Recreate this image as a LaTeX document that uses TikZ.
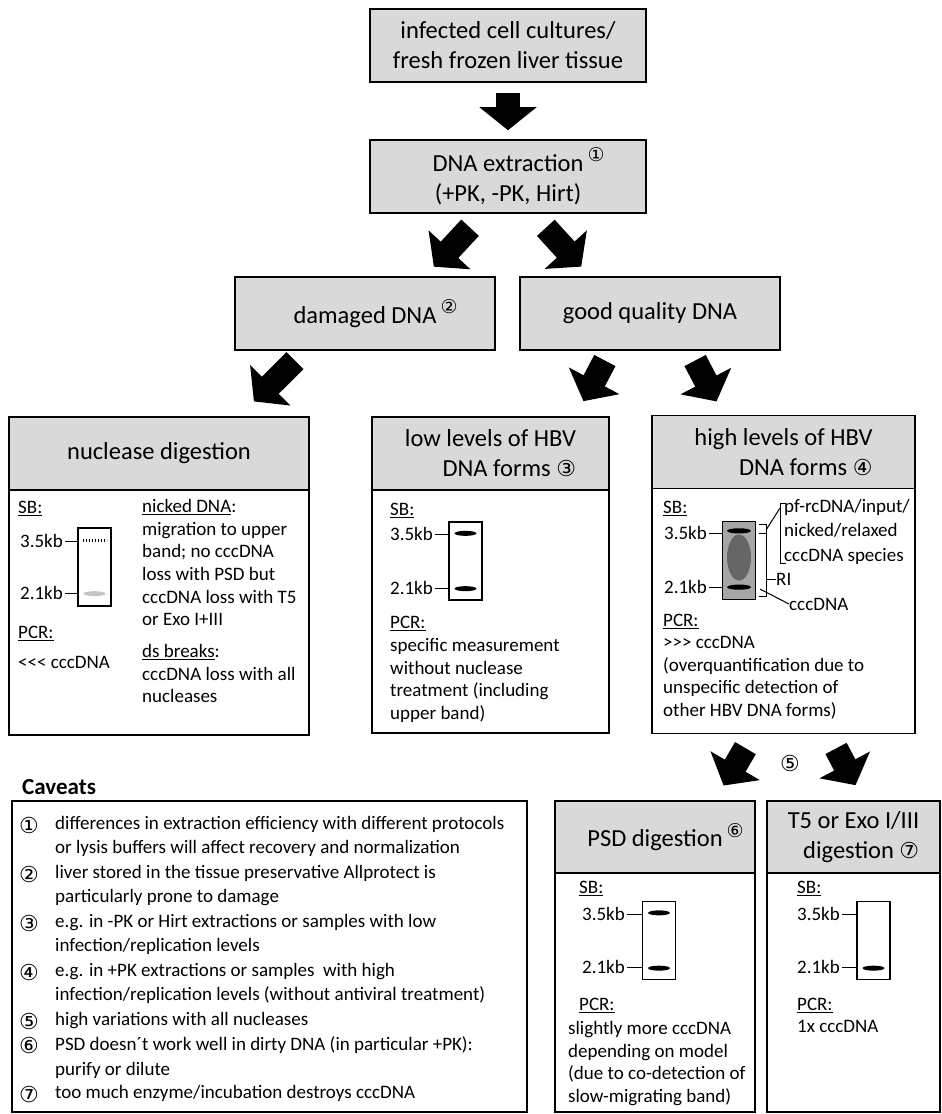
\documentclass[tikz,border=0pt]{standalone}
\usepackage{fontspec}
\setmainfont{Carlito}
\newfontfamily\circfont{DejaVu Sans}
\usetikzlibrary{arrows.meta,calc}

\definecolor{headgray}{HTML}{D9D9D9}
\definecolor{gelgray}{HTML}{A6A6A6}
\definecolor{smear}{HTML}{666666}
\definecolor{faint}{HTML}{C4C4C4}

\tikzstyle{head}=[draw,line width=1.6pt,fill=headgray,minimum height=73pt,align=center,inner sep=0pt,font=\fontsize{24.5}{30}\selectfont]
\tikzstyle{body}=[draw,line width=1.6pt,inner sep=0pt]
\tikzstyle{txt}=[anchor=north west,inner sep=0pt,align=left,font=\fontsize{19}{22.7}\selectfont]
\tikzstyle{lbl}=[anchor=east,inner sep=0pt,font=\fontsize{19}{22}\selectfont]
\tikzstyle{gel}=[draw,line width=1.3pt,minimum width=33pt,minimum height=78pt,inner sep=0pt]
\tikzstyle{tick}=[line width=1pt,shorten <=2pt]
\tikzstyle{bigarrow}=[line width=24pt,-{Triangle[width=56pt,length=23pt]}]
\tikzstyle{circ}=[inner sep=0pt,font=\circfont\fontsize{22}{22}\selectfont]
\newcommand{\circsup}[1]{\rlap{\,\raisebox{0.4em}{\circfont\fontsize{19}{19}\selectfont #1}}}
\newcommand{\circin}[1]{{\circfont\fontsize{22}{22}\selectfont #1}}

\begin{document}
\begin{tikzpicture}[x=1pt,y=-1pt]
\useasboundingbox (0,0) rectangle (942,1114);
% top of the flow
\node[head,minimum width=276pt] (top) at (508,45.5) {infected cell cultures/\\fresh frozen liver tissue};
\node[head,minimum width=276pt] (ext) at (508,176.5) {DNA extraction\circsup{①}\\(+PK, -PK, Hirt)};
\node[head,minimum width=260pt] (dmg) at (365,313.5) {damaged DNA\circsup{②}};
\node[head,minimum width=260pt] (good) at (650,313.5) {good quality DNA};
\draw[bigarrow,shorten <=10pt,shorten >=9pt] (top) -- (ext);
\draw[bigarrow,shorten <=19pt,shorten >=13pt] ($(ext.south)+(-25,0)$) -- ($(dmg.north)+(60,0)$);
\draw[bigarrow,shorten <=19pt,shorten >=13pt] ($(ext.south)+(25,0)$) -- ($(good.north)+(-60,0)$);

% nuclease digestion
\node[body,minimum width=300pt,minimum height=245pt] (nuc) at (159,612.5) {};
\node[head,minimum width=300pt] (nuc_h) at (159,453.5) {nuclease digestion};
\node[txt] (sb_nuc) at (18,501) {\underline{SB:}};
\node[gel] (gel_nuc) at (94.5,567) {};
\node[lbl] (l35_nuc) at (63,541) {3.5kb};
\node[lbl] (l21_nuc) at (63,593) {2.1kb};
\draw[tick] (l35_nuc.east) -- (l35_nuc.east -| gel_nuc.west);
\draw[tick] (l21_nuc.east) -- (l21_nuc.east -| gel_nuc.west);
\draw[line width=2.4pt,dash pattern=on 1.6pt off 1.4pt] ($(gel_nuc.north)+(-12,13)$) -- ($(gel_nuc.north)+(12,13)$);
\fill[faint] ($(gel_nuc.south)+(0,-13)$) ellipse [x radius=11,y radius=2.5];
\node[txt] (pcr_nuc) at (18,626) {\underline{PCR:}};
\node[txt] (res_nuc) at (18,656) {<\kern0pt<\kern0pt< cccDNA};
\node[txt] (nick_nuc) at (142,499) {\underline{nicked DNA}:\\migration to upper\\band; no cccDNA\\loss with PSD but\\cccDNA loss with T5\\or Exo I+III};
\node[txt] (ds_nuc) at (142,644) {\underline{ds breaks}:\\cccDNA loss with all\\nucleases};
\draw[bigarrow,shorten <=14pt,shorten >=21pt] ($(dmg.south)+(-60,0)$) -- ($(nuc_h.north)+(80,0)$);

% low levels
\node[body,minimum width=237pt,minimum height=243pt] (low) at (490.5,611.5) {};
\node[head,minimum width=237pt,align=right] (low_h) at (490.5,453.5) {low levels of HBV\\DNA forms \circin{③}};
\node[txt] (sb_low) at (390,503) {\underline{SB:}};
\node[gel] (gel_low) at (465.5,561) {};
\node[lbl] (l35_low) at (433,534) {3.5kb};
\node[lbl] (l21_low) at (433,588) {2.1kb};
\draw[tick] (l35_low.east) -- (l35_low.east -| gel_low.west);
\draw[tick] (l21_low.east) -- (l21_low.east -| gel_low.west);
\fill ($(gel_low.north)+(0,12)$) ellipse [x radius=11,y radius=2.5];
\fill ($(gel_low.south)+(0,-12)$) ellipse [x radius=11,y radius=2.5];
\node[txt] (pcr_low) at (390,616) {\underline{PCR:}};
\node[txt] (res_low) at (390,638) {specific measurement\\without nuclease\\treatment (including\\upper band)};
\draw[bigarrow,shorten <=11pt,shorten >=17pt] ($(good.south)+(-40,0)$) -- ($(low_h.north)+(85,0)$);

% high levels
\node[body,minimum width=263pt,minimum height=245pt] (high) at (783.5,611) {};
\node[head,minimum width=263pt,align=right] (high_h) at (783.5,452) {high levels of HBV\\DNA forms \circin{④}};
\node[txt] (sb_high) at (663,501) {\underline{SB:}};
\node[gel,fill=gelgray] (gel_high) at (739,560.5) {};
\fill[smear] ($(gel_high.center)+(0,-3)$) ellipse [x radius=12,y radius=23];
\fill ($(gel_high.north)+(0,10)$) ellipse [x radius=12,y radius=2.6];
\fill ($(gel_high.south)+(0,-13)$) ellipse [x radius=12,y radius=2.6];
\node[lbl] (l35_high) at (707,533) {3.5kb};
\node[lbl] (l21_high) at (707,587) {2.1kb};
\draw[tick] (l35_high.east) -- (l35_high.east -| gel_high.west);
\draw[tick] (l21_high.east) -- (l21_high.east -| gel_high.west);
\node[txt,font=\fontsize{19}{24.5}\selectfont] (pf_high) at (784,499) {pf-rcDNA/input/\\nicked/relaxed\\cccDNA species};
\node[lbl,anchor=west] (ri_high) at (776,579) {RI};
\node[lbl,anchor=west] (ccc_high) at (789,604) {cccDNA};
\draw[line width=1pt] ($(gel_high.north east)+(3,4)$) -- ++(7,0) -- ++(0,72) -- ++(-7,0);
\draw[line width=1pt] ($(gel_high.north east)+(3,13)$) -- ++(7,0);
\draw[line width=1pt] ($(gel_high.north east)+(10,9)$) -- ($(pf_high.north west)+(-4,9)$);
\draw[line width=1pt] ($(pf_high.north west)+(2,4)$) -- ++(-6,0) -- ++(0,60) -- ++(6,0);
\draw[line width=1pt] (ri_high.west) -- (ri_high.west -| {$(gel_high.east)+(10,0)$});
\draw[line width=1pt] ($(gel_high.south east)+(4,-11)$) -- (ccc_high.west);
\node[txt] (pcr_high) at (663,614) {\underline{PCR:}};
\node[txt] (res_high) at (663,636) {>\kern0pt>\kern0pt> cccDNA\\(overquantification due to\\unspecific detection of\\other HBV DNA forms)};
\draw[bigarrow,shorten <=11pt,shorten >=15pt] ($(good.south)+(40,0)$) -- ($(high_h.north)+(-60,0)$);

% caveats
\node[anchor=west,inner sep=0pt,font=\bfseries\fontsize{23}{23}\selectfont] (cav_t) at (22,787) {Caveats};
\node[body,minimum width=515pt,minimum height=311pt] (cav) at (269.5,956.5) {};
\tikzstyle{cavtxt}=[txt,font=\fontsize{19}{24.5}\selectfont]
\node[circ] (c1) at (29,825) {①};
\node[cavtxt] (t1) at (55,816) {differences in extraction efficiency with different protocols\\or lysis buffers will affect recovery and normalization};
\node[circ] (c2) at (29,874) {②};
\node[cavtxt] (t2) at (55,865) {liver stored in the tissue preservative Allprotect is\\particularly prone to damage};
\node[circ] (c3) at (29,923) {③};
\node[cavtxt] (t3) at (55,914) {e.g. in -PK or Hirt extractions or samples with low\\infection/replication levels};
\node[circ] (c4) at (29,972) {④};
\node[cavtxt] (t4) at (55,963) {e.g. in +PK extractions or samples\ \ with high\\infection/replication levels (without antiviral treatment)};
\node[circ] (c5) at (29,1021) {⑤};
\node[cavtxt] (t5) at (55,1012) {high variations with all nucleases};
\node[circ] (c6) at (29,1045.5) {⑥};
\node[cavtxt] (t6) at (55,1036.5) {PSD doesn´t work well in dirty DNA (in particular +PK):\\purify or dilute};
\node[circ] (c7) at (29,1094.5) {⑦};
\node[cavtxt] (t7) at (55,1085.5) {too much enzyme/incubation destroys cccDNA};

% PSD digestion
\node[body,minimum width=200pt,minimum height=239pt] (psd) at (655,992.5) {};
\node[head,minimum width=200pt,minimum height=72pt] (psd_h) at (655,837) {PSD digestion\circsup{⑥}};
\node[txt] (sb_psd) at (579,881) {\underline{SB:}};
\node[gel] (gel_psd) at (659,940.5) {};
\node[lbl] (l35_psd) at (625,914) {3.5kb};
\node[lbl] (l21_psd) at (625,967) {2.1kb};
\draw[tick] (l35_psd.east) -- (l35_psd.east -| gel_psd.west);
\draw[tick] (l21_psd.east) -- (l21_psd.east -| gel_psd.west);
\fill ($(gel_psd.north)+(0,12)$) ellipse [x radius=11,y radius=2.5];
\fill ($(gel_psd.south)+(0,-12)$) ellipse [x radius=11,y radius=2.5];
\node[txt] (pcr_psd) at (579,998) {\underline{PCR:}};
\node[txt] (res_psd) at (568,1021) {slightly more cccDNA\\depending on model\\(due to co-detection of\\slow-migrating band)};
\draw[bigarrow,shorten <=16pt,shorten >=17pt] ($(high.south)+(-30,0)$) -- ($(psd_h.north)+(60,0)$);

% T5 or Exo digestion
\node[body,minimum width=173pt,minimum height=239pt] (exo) at (853.5,992.5) {};
\node[head,minimum width=173pt,minimum height=72pt,align=right] (exo_h) at (853.5,837) {T5 or Exo I/III\\digestion \circin{⑦}};
\node[txt] (sb_exo) at (797,881) {\underline{SB:}};
\node[gel] (gel_exo) at (873.5,940.5) {};
\node[lbl] (l35_exo) at (840,914) {3.5kb};
\node[lbl] (l21_exo) at (840,967) {2.1kb};
\draw[tick] (l35_exo.east) -- (l35_exo.east -| gel_exo.west);
\draw[tick] (l21_exo.east) -- (l21_exo.east -| gel_exo.west);
\fill ($(gel_exo.south)+(0,-12)$) ellipse [x radius=11,y radius=2.5];
\node[txt] (pcr_exo) at (797,998) {\underline{PCR:}};
\node[txt] (res_exo) at (797,1020) {1x cccDNA};
\draw[bigarrow,shorten <=16pt,shorten >=17pt] ($(high.south)+(45,0)$) -- ($(exo_h.north)+(10,0)$);
\node[circ] (c5b) at (790,763) {⑤};
\end{tikzpicture}
\end{document}
